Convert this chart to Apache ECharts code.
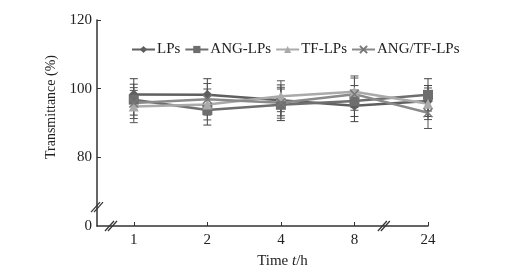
<!DOCTYPE html>
<html>
<head>
<meta charset="UTF-8">
<script src="https://cdn.jsdelivr.net/npm/echarts@6/dist/echarts.min.js"></script>
<style>
  body { margin: 0; background: #fff; }
  #root { width: 516px; height: 274px; }
</style>
</head>
<body>
<div id="root"></div>
<script>
  // time points (h)
  var times = ['1', '2', '4', '8', '24'];

  // transmittance (%) per formulation
  var lps = [98.3, 98.2, 96.6, 95.0, 96.4];
  var angLps = [96.8, 93.8, 95.3, 96.4, 98.2];
  var tfLps = [94.8, 95.4, 97.8, 99.1, 95.6];
  var angTfLps = [95.8, 96.9, 95.9, 98.4, 93.0];

  // error (SD)
  var lpsErr = [4.6, 4.7, 4.5, 4.6, 4.5];
  var angLpsErr = [4.5, 4.4, 4.6, 4.5, 4.7];
  var tfLpsErr = [4.7, 4.5, 4.5, 4.6, 4.6];
  var angTfLpsErr = [4.5, 4.6, 4.5, 4.7, 4.6];

  var yTicks = [80, 100, 120];

  var font = 'Liberation Serif';
  var axisColor = '#333';

  function pts(arr) {
    return arr.map(function (v, i) { return [2 * i + 1, v]; });
  }
  function errPts(arr, err) {
    return arr.map(function (v, i) { return [2 * i + 1, v - err[i], v + err[i]]; });
  }

  function errorSeries(arr, err, color) {
    return {
      type: 'custom',
      silent: true,
      z: 1,
      data: errPts(arr, err),
      renderItem: function (params, api) {
        var lo = api.coord([api.value(0), api.value(1)]);
        var hi = api.coord([api.value(0), api.value(2)]);
        var w = 4;
        var st = { stroke: color, lineWidth: 1 };
        return {
          type: 'group',
          children: [
            { type: 'line', shape: { x1: lo[0], y1: lo[1], x2: hi[0], y2: hi[1] }, style: st },
            { type: 'line', shape: { x1: lo[0] - w, y1: lo[1], x2: lo[0] + w, y2: lo[1] }, style: st },
            { type: 'line', shape: { x1: hi[0] - w, y1: hi[1], x2: hi[0] + w, y2: hi[1] }, style: st }
          ]
        };
      }
    };
  }

  function lineSeries(name, arr, color, symbol, size) {
    return {
      name: name,
      type: 'line',
      z: 3,
      data: pts(arr),
      symbol: symbol,
      symbolSize: size,
      lineStyle: { color: color, width: 2.5 },
      itemStyle: { color: color }
    };
  }

  var chart = echarts.init(document.getElementById('root'), null, { renderer: 'canvas' });

  var cross = 'path://M0,0 L1,1 M1,0 L0,1';

  chart.setOption({
    animation: false,
    textStyle: { fontFamily: font },
    grid: { left: 97, right: 88, top: 20, bottom: 47 },
    legend: {
      left: 126,
      top: 37,
      itemGap: 4,
      itemWidth: 23,
      itemHeight: 9,
      textStyle: { fontFamily: font, fontSize: 15, color: '#222', padding: [0, 0, 0, -3] },
      data: ['LPs', 'ANG-LPs', 'TF-LPs', 'ANG/TF-LPs']
    },
    xAxis: {
      type: 'value',
      min: 0,
      max: 9,
      interval: 1,
      name: 'Time {i|t}/h',
      nameLocation: 'middle',
      nameGap: 28,
      nameTextStyle: {
        fontFamily: font, fontSize: 15, color: '#222', padding: [0, 0, 0, 40],
        rich: { i: { fontFamily: font, fontSize: 15, fontStyle: 'italic', color: '#222' } }
      },
      axisLine: { lineStyle: { color: axisColor, width: 1.5 } },
      axisTick: { inside: true, length: 4, customValues: [1, 3, 5, 7, 9], lineStyle: { color: axisColor } },
      axisLabel: {
        customValues: [1, 3, 5, 7, 9],
        margin: 7,
        fontFamily: font, fontSize: 15, color: '#222',
        formatter: function (v) { return times[(v - 1) / 2]; }
      },
      splitLine: { show: false }
    },
    yAxis: {
      type: 'value',
      min: 60,
      max: 120,
      interval: 20,
      name: 'Transmittance (%)',
      nameLocation: 'middle',
      nameGap: 36,
      nameTextStyle: { fontFamily: font, fontSize: 14, color: '#222', padding: [0, 0, 0, 32] },
      axisLine: { show: true, lineStyle: { color: axisColor, width: 1.5 } },
      axisTick: { show: true, inside: true, length: 4, customValues: yTicks, lineStyle: { color: axisColor } },
      axisLabel: {
        customValues: [60].concat(yTicks),
        margin: 5,
        fontFamily: font, fontSize: 15, color: '#222',
        formatter: function (v) { return v === 60 ? '0' : String(v); }
      },
      splitLine: { show: false }
    },
    series: [
      errorSeries(lps, lpsErr, '#444'),
      errorSeries(angLps, angLpsErr, '#444'),
      errorSeries(tfLps, tfLpsErr, '#555'),
      errorSeries(angTfLps, angTfLpsErr, '#555'),
      lineSeries('LPs', lps, '#5f5f5f', 'diamond', 10),
      lineSeries('ANG-LPs', angLps, '#6e6e6e', 'rect', 10),
      lineSeries('TF-LPs', tfLps, '#aaaaaa', 'triangle', 10),
      {
        name: 'ANG/TF-LPs',
        type: 'line',
        z: 3,
        data: pts(angTfLps),
        symbol: cross,
        symbolSize: 9,
        lineStyle: { color: '#8a8a8a', width: 2.5 },
        itemStyle: { color: 'none', borderColor: '#777', borderWidth: 1.5 }
      }
    ]
  });

  // axis break marks "//"
  function breakMark(p) {
    var d = 5, g = 3;
    return [-g / 2, g / 2].map(function (o) {
      return {
        type: 'line',
        shape: { x1: p[0] + o - d * 0.9, y1: p[1] + d, x2: p[0] + o + d * 0.9, y2: p[1] - d },
        style: { stroke: '#333', lineWidth: 1.2 },
        z: 10
      };
    });
  }
  var yb = chart.convertToPixel({ gridIndex: 0 }, [0, 65.5]);
  var xb1 = chart.convertToPixel({ gridIndex: 0 }, [0.38, 60]);
  var xb2 = chart.convertToPixel({ gridIndex: 0 }, [7.8, 60]);
  chart.setOption({
    graphic: [].concat(breakMark(yb), breakMark(xb1), breakMark(xb2))
  });
</script>
</body>
</html>
